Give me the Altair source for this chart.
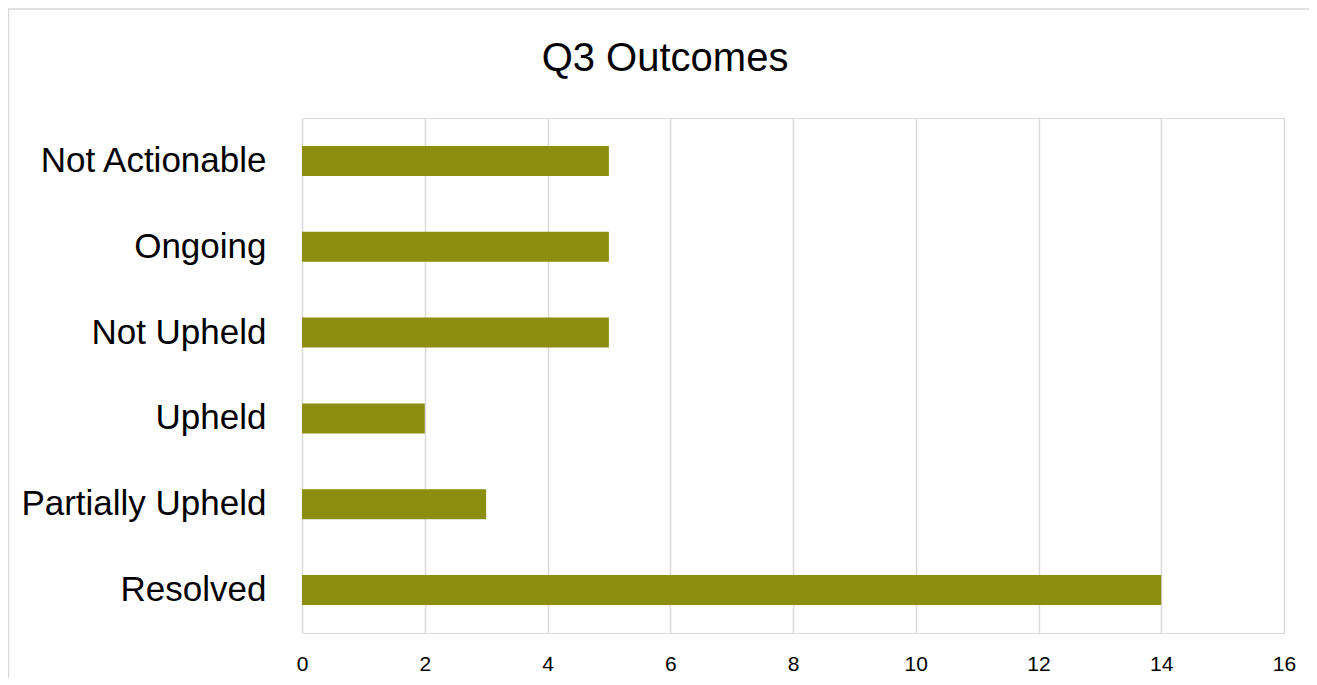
import altair as alt
import pandas as pd

categories = ["Not Actionable", "Ongoing ", "Not Upheld", "Upheld", "Partially Upheld", "Resolved"]
counts = [5, 5, 5, 2, 3, 14]
x_ticks = [0, 2, 4, 6, 8, 10, 12, 14, 16]

df = pd.DataFrame({"Outcome": categories, "Count": counts})

FONT = "Liberation Sans"

bars = alt.Chart(df).mark_bar(color="#8B8E0E").encode(
    x=alt.X(
        "Count:Q",
        scale=alt.Scale(domain=[0, 16], nice=False),
        axis=alt.Axis(
            values=x_ticks,
            title=None,
            domain=False,
            ticks=False,
            grid=True,
            gridColor="#D9D9D9",
            gridWidth=1.5,
            labelFont=FONT,
            labelFontSize=21,
            labelColor="#000000",
            labelPadding=20,
            labelFlush=False,
        ),
    ),
    y=alt.Y(
        "Outcome:N",
        sort=categories,
        scale=alt.Scale(paddingInner=0.65, paddingOuter=0.325),
        axis=alt.Axis(
            title=None,
            domain=False,
            ticks=False,
            grid=False,
            labelFont=FONT,
            labelFontSize=35,
            labelColor="#000000",
            labelPadding=36,
            labelLimit=400,
        ),
    ),
)

border = alt.Chart(pd.DataFrame({"k": [0]})).mark_rect(
    fill=None, stroke="#D9D9D9", strokeWidth=1.5
).encode(
    x=alt.value(-293.5),
    x2=alt.value(1040),
    y=alt.value(-109),
    y2=alt.value(590),
)

chart = alt.layer(border, bars).properties(
    width=982,
    height=515,
    autosize=alt.AutoSizeParams(type="none"),
    padding={"left": 294, "top": 110, "right": 25, "bottom": 45},
    title=alt.TitleParams(
        "Q3 Outcomes",
        font=FONT,
        fontSize=40,
        fontWeight="normal",
        color="#000000",
        anchor="middle",
        frame="group",
        dx=-128,
        offset=-103,
        baseline="alphabetic",
    ),
).configure_view(stroke=None).configure(background="#FFFFFF")

chart.save("out.html", embed_options={"renderer": "svg", "actions": False})
